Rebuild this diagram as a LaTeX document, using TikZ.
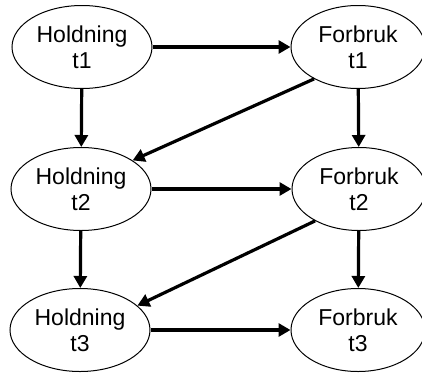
\documentclass[tikz,border=0pt]{standalone}
\usepackage{fontspec}
\setmainfont{Liberation Sans}
\usetikzlibrary{shapes.geometric,arrows.meta}
\begin{document}
\begin{tikzpicture}[x=1pt,y=-1pt,
  state/.style={ellipse,draw=black,line width=1pt,fill=white,
    minimum width=140pt,minimum height=83pt,inner sep=0pt,align=center,
    font=\fontsize{23}{26}\selectfont},
  fstate/.style={state,minimum width=134pt},
  link/.style={line width=3.2pt,-{Triangle[length=12pt,width=13pt]}}]
  \useasboundingbox (0,0) rectangle (422,372);
  \node[state]  (H1) at (82,47)   {Holdning\\t1};
  \node[fstate] (F1) at (358,47)  {Forbruk\\t1};
  \node[state]  (H2) at (81,189)  {Holdning\\t2};
  \node[fstate] (F2) at (359,189) {Forbruk\\t2};
  \node[state]  (H3) at (80,330)  {Holdning\\t3};
  \node[fstate] (F3) at (358,330) {Forbruk\\t3};
  \draw[link] (H1) -- (F1);
  \draw[link] (H2) -- (F2);
  \draw[link] (H3) -- (F3);
  \draw[link] (H1) -- (H2);
  \draw[link] (H2) -- (H3);
  \draw[link] (F1) -- (F2);
  \draw[link] (F2) -- (F3);
  \draw[link] (F1.216) -- (H2.29);
  \draw[link] (F2.216) -- (H3.23);
\end{tikzpicture}
\end{document}
